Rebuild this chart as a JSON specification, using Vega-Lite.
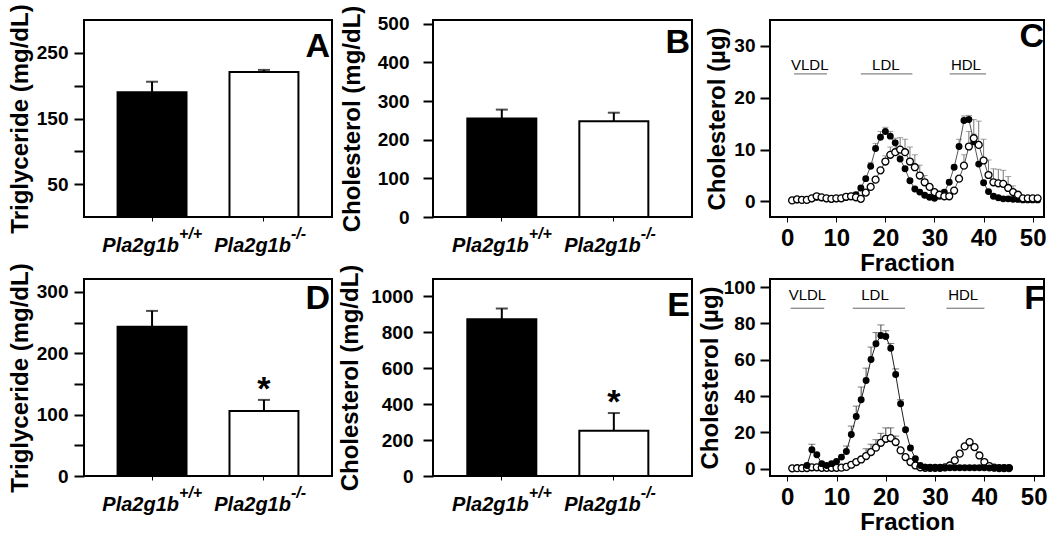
{
  "$schema": "https://vega.github.io/schema/vega-lite/v6.json",
  "padding": {"left": 7, "top": 2, "right": 0, "bottom": 0},
  "background": "white",
  "columns": 3,
  "spacing": {"column": 4, "row": -15},
  "datasets": {
    "bars": [
      {"panel": "A", "genotype": "Pla2g1b+/+", "mean": 190, "upper": 206, "sig": ""},
      {"panel": "A", "genotype": "Pla2g1b-/-", "mean": 221, "upper": 224, "sig": ""},
      {"panel": "B", "genotype": "Pla2g1b+/+", "mean": 255, "upper": 278, "sig": ""},
      {"panel": "B", "genotype": "Pla2g1b-/-", "mean": 248, "upper": 270, "sig": ""},
      {"panel": "D", "genotype": "Pla2g1b+/+", "mean": 243, "upper": 269, "sig": ""},
      {"panel": "D", "genotype": "Pla2g1b-/-", "mean": 106, "upper": 124, "sig": "*"},
      {"panel": "E", "genotype": "Pla2g1b+/+", "mean": 871, "upper": 931, "sig": ""},
      {"panel": "E", "genotype": "Pla2g1b-/-", "mean": 251, "upper": 350, "sig": "*"}
    ],
    "clab": [
      {"lab": "VLDL", "c": 4.6, "a": 1.4, "b": 8.1, "t": 26.4, "l": 24.6},
      {"lab": "LDL", "c": 20.1, "a": 15.0, "b": 25.5, "t": 26.4, "l": 24.6},
      {"lab": "HDL", "c": 36.4, "a": 33.1, "b": 40.5, "t": 26.4, "l": 24.6}
    ],
    "flab": [
      {"lab": "VLDL", "c": 4.1, "a": 0.7, "b": 7.5, "t": 95.8, "l": 88.4},
      {"lab": "LDL", "c": 17.8, "a": 13.3, "b": 23.9, "t": 95.8, "l": 88.4},
      {"lab": "HDL", "c": 35.7, "a": 32.3, "b": 40.0, "t": 95.8, "l": 88.4}
    ],
    "cdat": [
      {"f":1,"g":"wt","v":0.2},{"f":2,"g":"wt","v":0.3},{"f":3,"g":"wt","v":0.3},{"f":4,"g":"wt","v":0.3},{"f":5,"g":"wt","v":0.5},
      {"f":6,"g":"wt","v":0.8},{"f":7,"g":"wt","v":0.7},{"f":8,"g":"wt","v":0.5},{"f":9,"g":"wt","v":0.4},{"f":10,"g":"wt","v":0.5},
      {"f":11,"g":"wt","v":0.6},{"f":12,"g":"wt","v":0.8},{"f":13,"g":"wt","v":1.0},{"f":14,"g":"wt","v":1.3},{"f":15,"g":"wt","v":2.6},
      {"f":16,"g":"wt","v":4.4},{"f":17,"g":"wt","v":6.8,"e":7.5},{"f":18,"g":"wt","v":10.2,"e":11.2},{"f":19,"g":"wt","v":12.4,"e":13.5},{"f":20,"g":"wt","v":13.5,"e":14.3},
      {"f":21,"g":"wt","v":12.6,"e":13.5},{"f":22,"g":"wt","v":11.3,"e":12.2},{"f":23,"g":"wt","v":8.2},{"f":24,"g":"wt","v":6.3},{"f":25,"g":"wt","v":4.0},
      {"f":26,"g":"wt","v":2.4},{"f":27,"g":"wt","v":1.8},{"f":28,"g":"wt","v":1.2},{"f":29,"g":"wt","v":0.8},{"f":30,"g":"wt","v":0.6},
      {"f":31,"g":"wt","v":1.0},{"f":32,"g":"wt","v":1.8},{"f":33,"g":"wt","v":3.7},{"f":34,"g":"wt","v":6.6},{"f":35,"g":"wt","v":10.6,"e":12.0},
      {"f":36,"g":"wt","v":15.6,"e":16.5},{"f":37,"g":"wt","v":15.8,"e":16.6},{"f":38,"g":"wt","v":11.5,"e":13.0},{"f":39,"g":"wt","v":7.2},{"f":40,"g":"wt","v":3.6},
      {"f":41,"g":"wt","v":1.9},{"f":42,"g":"wt","v":1.0},{"f":43,"g":"wt","v":0.7},{"f":44,"g":"wt","v":0.5},{"f":45,"g":"wt","v":0.5},
      {"f":46,"g":"wt","v":0.4},{"f":47,"g":"wt","v":0.4},{"f":48,"g":"wt","v":0.3},{"f":49,"g":"wt","v":0.3},{"f":50,"g":"wt","v":0.3},{"f":51,"g":"wt","v":0.3},
      {"f":1,"g":"ko","v":0.2},{"f":2,"g":"ko","v":0.4},{"f":3,"g":"ko","v":0.3},{"f":4,"g":"ko","v":0.3},{"f":5,"g":"ko","v":0.6},
      {"f":6,"g":"ko","v":1.0},{"f":7,"g":"ko","v":0.8},{"f":8,"g":"ko","v":0.6},{"f":9,"g":"ko","v":0.5},{"f":10,"g":"ko","v":0.6},
      {"f":11,"g":"ko","v":0.6},{"f":12,"g":"ko","v":0.9},{"f":13,"g":"ko","v":1.0},{"f":14,"g":"ko","v":0.8},{"f":15,"g":"ko","v":0.5},
      {"f":16,"g":"ko","v":1.7},{"f":17,"g":"ko","v":2.8},{"f":18,"g":"ko","v":4.2},{"f":19,"g":"ko","v":6.0},{"f":20,"g":"ko","v":7.7,"e":8.8},
      {"f":21,"g":"ko","v":9.0,"e":10.5},{"f":22,"g":"ko","v":9.5,"e":11.8},{"f":23,"g":"ko","v":10.0,"e":12.3},{"f":24,"g":"ko","v":9.5,"e":12.0},{"f":25,"g":"ko","v":7.7,"e":10.5},
      {"f":26,"g":"ko","v":6.6,"e":9.0},{"f":27,"g":"ko","v":5.0,"e":7.0},{"f":28,"g":"ko","v":3.7,"e":5.0},{"f":29,"g":"ko","v":2.8},{"f":30,"g":"ko","v":1.8},
      {"f":31,"g":"ko","v":1.3},{"f":32,"g":"ko","v":1.0},{"f":33,"g":"ko","v":1.0},{"f":34,"g":"ko","v":2.1},{"f":35,"g":"ko","v":4.4},
      {"f":36,"g":"ko","v":6.9,"e":9.0},{"f":37,"g":"ko","v":10.6,"e":13.5},{"f":38,"g":"ko","v":12.2,"e":15.8},{"f":39,"g":"ko","v":10.9,"e":15.5},{"f":40,"g":"ko","v":7.9,"e":12.0},
      {"f":41,"g":"ko","v":5.1,"e":8.0},{"f":42,"g":"ko","v":3.7,"e":6.3},{"f":43,"g":"ko","v":3.5,"e":6.2},{"f":44,"g":"ko","v":3.4,"e":6.0},{"f":45,"g":"ko","v":2.6,"e":4.8},
      {"f":46,"g":"ko","v":1.8,"e":3.0},{"f":47,"g":"ko","v":1.3},{"f":48,"g":"ko","v":0.6},{"f":49,"g":"ko","v":0.6},{"f":50,"g":"ko","v":0.6},{"f":51,"g":"ko","v":0.6}
    ],
    "fdat": [
      {"f":4,"g":"wt","v":1.8},{"f":5,"g":"wt","v":10.5,"e":13.5},{"f":6,"g":"wt","v":7.7},{"f":7,"g":"wt","v":2.8},{"f":8,"g":"wt","v":1.8},
      {"f":9,"g":"wt","v":2.8},{"f":10,"g":"wt","v":4.0},{"f":11,"g":"wt","v":6.4},{"f":12,"g":"wt","v":9.5,"e":12.5},{"f":13,"g":"wt","v":18.9,"e":23.5},
      {"f":14,"g":"wt","v":28.8,"e":34.5},{"f":15,"g":"wt","v":38.0,"e":45.0},{"f":16,"g":"wt","v":48.6,"e":55.4},{"f":17,"g":"wt","v":60.2,"e":67.0},{"f":18,"g":"wt","v":68.8,"e":75.0},
      {"f":19,"g":"wt","v":73.4,"e":79.2},{"f":20,"g":"wt","v":72.8,"e":76.0},{"f":21,"g":"wt","v":66.4,"e":69.0},{"f":22,"g":"wt","v":51.9,"e":55.0},{"f":23,"g":"wt","v":35.8,"e":38.0},
      {"f":24,"g":"wt","v":21.5},{"f":25,"g":"wt","v":11.4},{"f":26,"g":"wt","v":5.5},{"f":27,"g":"wt","v":1.8},{"f":28,"g":"wt","v":0.8},
      {"f":29,"g":"wt","v":0.5},{"f":30,"g":"wt","v":0.5},{"f":31,"g":"wt","v":0.5},{"f":32,"g":"wt","v":0.5},{"f":33,"g":"wt","v":0.5},
      {"f":34,"g":"wt","v":0.5},{"f":35,"g":"wt","v":0.5},{"f":36,"g":"wt","v":0.5},{"f":37,"g":"wt","v":0.5},{"f":38,"g":"wt","v":0.5},
      {"f":39,"g":"wt","v":0.5},{"f":40,"g":"wt","v":0.5},{"f":41,"g":"wt","v":0.4},{"f":42,"g":"wt","v":0.4},{"f":43,"g":"wt","v":0.4},{"f":44,"g":"wt","v":0.4},{"f":45,"g":"wt","v":0.4},
      {"f":1,"g":"ko","v":0.2},{"f":2,"g":"ko","v":0.3},{"f":3,"g":"ko","v":0.3},{"f":4,"g":"ko","v":0.4},{"f":5,"g":"ko","v":0.8},
      {"f":6,"g":"ko","v":0.8},{"f":7,"g":"ko","v":0.5},{"f":8,"g":"ko","v":0.5},{"f":9,"g":"ko","v":0.5},{"f":10,"g":"ko","v":0.5},
      {"f":11,"g":"ko","v":0.6},{"f":12,"g":"ko","v":1.0},{"f":13,"g":"ko","v":2.2},{"f":14,"g":"ko","v":3.7},{"f":15,"g":"ko","v":5.1},
      {"f":16,"g":"ko","v":7.0,"e":11.0},{"f":17,"g":"ko","v":9.2,"e":13.5},{"f":18,"g":"ko","v":11.6,"e":16.0},{"f":19,"g":"ko","v":14.3,"e":19.5},{"f":20,"g":"ko","v":16.5,"e":22.5},
      {"f":21,"g":"ko","v":16.9,"e":22.5},{"f":22,"g":"ko","v":14.7,"e":18.0},{"f":23,"g":"ko","v":10.1},{"f":24,"g":"ko","v":6.4},{"f":25,"g":"ko","v":3.7},
      {"f":26,"g":"ko","v":1.8},{"f":27,"g":"ko","v":0.8},{"f":28,"g":"ko","v":0.5},{"f":29,"g":"ko","v":0.5},{"f":30,"g":"ko","v":0.5},
      {"f":31,"g":"ko","v":0.5},{"f":32,"g":"ko","v":0.8},{"f":33,"g":"ko","v":1.8},{"f":34,"g":"ko","v":4.6},{"f":35,"g":"ko","v":8.3},
      {"f":36,"g":"ko","v":12.3},{"f":37,"g":"ko","v":14.7},{"f":38,"g":"ko","v":11.9},{"f":39,"g":"ko","v":7.3},{"f":40,"g":"ko","v":3.7},
      {"f":41,"g":"ko","v":1.5},{"f":42,"g":"ko","v":0.6},{"f":43,"g":"ko","v":0.4},{"f":44,"g":"ko","v":0.4},{"f":45,"g":"ko","v":0.4}
    ]
  },
  "concat": [
    {
      "width": 248, "height": 197,
      "title": {"text": "A", "offset": -60, "dx": -2},
      "data": {"name": "bars"},
      "transform": [{"filter": "datum.panel == 'A'"}],
      "layer": [
        {"mark": {"type": "bar", "stroke": "black", "strokeWidth": 2},
         "encoding": {
           "x": {"field": "genotype", "type": "nominal", "sort": null, "scale": {"paddingInner": 0.384, "paddingOuter": 0.3},
                 "axis": {"title": null, "labelExpr": "'Pla2g1b'", "labelFontSize": 20, "labelFontStyle": "italic", "labelAlign": "right", "labelOffset": 27, "labelPadding": 14, "labelBaseline": "top", "labelAngle": 0}},
           "y": {"field": "mean", "type": "quantitative", "scale": {"domain": [0, 300], "nice": false},
                 "axis": {"title": "Triglyceride (mg/dL)", "values": [50, 100, 150, 200, 250], "tickCount": 12, "labelExpr": "datum.value % 100 == 50 ? datum.label : ''", "labelPadding": 6, "titlePadding": 4}},
           "fill": {"field": "genotype", "type": "nominal", "sort": null, "scale": {"range": ["black", "white"]}, "legend": null}}},
        {"mark": {"type": "rule", "color": "black", "strokeWidth": 2},
         "encoding": {
           "x": {"field": "genotype", "type": "nominal", "sort": null,
                 "axis": {"title": null, "orient": "bottom", "ticks": false, "labelExpr": "datum.value == 'Pla2g1b+/+' ? '+/+' : '-/-'", "labelFontSize": 16, "labelFontStyle": "italic", "labelAlign": "left", "labelOffset": 27, "labelPadding": 8, "labelBaseline": "top", "labelAngle": 0}},
           "y": {"field": "mean", "type": "quantitative", "axis": {"title": "Triglyceride (mg/dL)"}},
           "y2": {"field": "upper"}}},
        {"mark": {"type": "tick", "color": "black", "thickness": 2, "size": 12},
         "encoding": {
           "x": {"field": "genotype", "type": "nominal", "sort": null, "axis": null},
           "y": {"field": "upper", "type": "quantitative", "axis": {"title": "Triglyceride (mg/dL)"}}}}
      ],
      "resolve": {"axis": {"x": "independent"}}
    },
    {
      "width": 259, "height": 197,
      "title": {"text": "B", "offset": -55, "dx": -2},
      "data": {"name": "bars"},
      "transform": [{"filter": "datum.panel == 'B'"}],
      "layer": [
        {"mark": {"type": "bar", "stroke": "black", "strokeWidth": 2},
         "encoding": {
           "x": {"field": "genotype", "type": "nominal", "sort": null, "scale": {"paddingInner": 0.384, "paddingOuter": 0.348, "align": 0.44},
                 "axis": {"title": null, "labelExpr": "'Pla2g1b'", "labelFontSize": 20, "labelFontStyle": "italic", "labelAlign": "right", "labelOffset": 27, "labelPadding": 14, "labelBaseline": "top", "labelAngle": 0}},
           "y": {"field": "mean", "type": "quantitative", "scale": {"domain": [0, 510], "nice": false},
                 "axis": {"title": "Cholesterol (mg/dL)", "values": [0, 100, 200, 300, 400, 500], "tickCount": 12, "labelPadding": 14, "titlePadding": 13}},
           "fill": {"field": "genotype", "type": "nominal", "sort": null, "scale": {"range": ["black", "white"]}, "legend": null}}},
        {"mark": {"type": "rule", "color": "black", "strokeWidth": 2},
         "encoding": {
           "x": {"field": "genotype", "type": "nominal", "sort": null,
                 "axis": {"title": null, "orient": "bottom", "ticks": false, "labelExpr": "datum.value == 'Pla2g1b+/+' ? '+/+' : '-/-'", "labelFontSize": 16, "labelFontStyle": "italic", "labelAlign": "left", "labelOffset": 27, "labelPadding": 8, "labelBaseline": "top", "labelAngle": 0}},
           "y": {"field": "mean", "type": "quantitative", "axis": {"title": "Cholesterol (mg/dL)"}},
           "y2": {"field": "upper"}}},
        {"mark": {"type": "tick", "color": "black", "thickness": 2, "size": 12},
         "encoding": {
           "x": {"field": "genotype", "type": "nominal", "sort": null, "axis": null},
           "y": {"field": "upper", "type": "quantitative", "axis": {"title": "Cholesterol (mg/dL)"}}}}
      ],
      "resolve": {"axis": {"x": "independent"}}
    },
    {
      "width": 274, "height": 197,
      "title": {"text": "C", "offset": -34, "dx": -2},
      "layer": [
        {"data": {"name": "clab"}, "mark": {"type": "rule", "color": "#666666", "strokeWidth": 1},
         "encoding": {"x": {"field": "a", "type": "quantitative", "axis": {"title": "Fraction"}}, "x2": {"field": "b"}, "y": {"field": "l", "type": "quantitative", "axis": {"title": "Cholesterol (µg)"}}}},
        {"data": {"name": "clab"}, "mark": {"type": "text", "fontSize": 15, "color": "black", "baseline": "middle"},
         "encoding": {"x": {"field": "c", "type": "quantitative", "axis": {"title": "Fraction"}}, "y": {"field": "t", "type": "quantitative", "axis": {"title": "Cholesterol (µg)"}}, "text": {"field": "lab"}}},
        {"data": {"name": "cdat"}, "transform": [{"filter": "isValid(datum.e)"}], "mark": {"type": "rule", "color": "#777777", "strokeWidth": 1},
         "encoding": {"x": {"field": "f", "type": "quantitative", "axis": {"title": "Fraction"}}, "y": {"field": "v", "type": "quantitative", "axis": {"title": "Cholesterol (µg)"}}, "y2": {"field": "e"}}},
        {"data": {"name": "cdat"}, "transform": [{"filter": "isValid(datum.e)"}], "mark": {"type": "tick", "orient": "horizontal", "color": "#777777", "thickness": 1, "size": 6},
         "encoding": {"x": {"field": "f", "type": "quantitative", "axis": {"title": "Fraction"}}, "y": {"field": "e", "type": "quantitative", "axis": {"title": "Cholesterol (µg)"}}}},
        {"data": {"name": "cdat"}, "mark": {"type": "line", "color": "#555555", "strokeWidth": 1},
         "encoding": {
           "x": {"field": "f", "type": "quantitative", "scale": {"domain": [-3.5, 52.3], "nice": false, "zero": false},
                 "axis": {"title": "Fraction", "values": [0, 10, 20, 30, 40, 50], "tickCount": 12, "labelFontSize": 24, "titleFontSize": 24, "tickSize": 5, "labelPadding": 4, "titlePadding": 1, "labelFlush": false}},
           "y": {"field": "v", "type": "quantitative", "scale": {"domain": [-3, 35], "nice": false, "zero": false},
                 "axis": {"title": "Cholesterol (µg)", "values": [0, 10, 20, 30], "tickCount": 12, "labelPadding": 5, "titlePadding": 4}},
           "detail": {"field": "g"}}},
        {"data": {"name": "cdat"}, "transform": [{"filter": "datum.g == 'wt'"}], "mark": {"type": "point", "shape": "circle", "filled": true, "color": "black", "size": 48, "opacity": 1},
         "encoding": {"x": {"field": "f", "type": "quantitative", "axis": {"title": "Fraction"}}, "y": {"field": "v", "type": "quantitative", "axis": {"title": "Cholesterol (µg)"}}}},
        {"data": {"name": "cdat"}, "transform": [{"filter": "datum.g == 'ko'"}], "mark": {"type": "point", "shape": "circle", "filled": true, "fill": "white", "stroke": "black", "strokeWidth": 1.3, "size": 48, "opacity": 1},
         "encoding": {"x": {"field": "f", "type": "quantitative", "axis": {"title": "Fraction"}}, "y": {"field": "v", "type": "quantitative", "axis": {"title": "Cholesterol (µg)"}}}}
      ]
    },
    {
      "width": 248, "height": 197,
      "title": {"text": "D", "offset": -53, "dx": -2},
      "data": {"name": "bars"},
      "transform": [{"filter": "datum.panel == 'D'"}],
      "layer": [
        {"mark": {"type": "bar", "stroke": "black", "strokeWidth": 2},
         "encoding": {
           "x": {"field": "genotype", "type": "nominal", "sort": null, "scale": {"paddingInner": 0.384, "paddingOuter": 0.3},
                 "axis": {"title": null, "labelExpr": "'Pla2g1b'", "labelFontSize": 20, "labelFontStyle": "italic", "labelAlign": "right", "labelOffset": 27, "labelPadding": 14, "labelBaseline": "top", "labelAngle": 0}},
           "y": {"field": "mean", "type": "quantitative", "scale": {"domain": [0, 321], "nice": false},
                 "axis": {"title": "Triglyceride (mg/dL)", "values": [0, 50, 100, 150, 200, 250, 300], "tickCount": 12, "labelExpr": "datum.value % 100 == 0 ? datum.label : ''", "labelPadding": 6, "titlePadding": 4}},
           "fill": {"field": "genotype", "type": "nominal", "sort": null, "scale": {"range": ["black", "white"]}, "legend": null}}},
        {"mark": {"type": "rule", "color": "black", "strokeWidth": 2},
         "encoding": {
           "x": {"field": "genotype", "type": "nominal", "sort": null,
                 "axis": {"title": null, "orient": "bottom", "ticks": false, "labelExpr": "datum.value == 'Pla2g1b+/+' ? '+/+' : '-/-'", "labelFontSize": 16, "labelFontStyle": "italic", "labelAlign": "left", "labelOffset": 27, "labelPadding": 8, "labelBaseline": "top", "labelAngle": 0}},
           "y": {"field": "mean", "type": "quantitative", "axis": {"title": "Triglyceride (mg/dL)"}},
           "y2": {"field": "upper"}}},
        {"mark": {"type": "tick", "color": "black", "thickness": 2, "size": 12},
         "encoding": {
           "x": {"field": "genotype", "type": "nominal", "sort": null, "axis": null},
           "y": {"field": "upper", "type": "quantitative", "axis": {"title": "Triglyceride (mg/dL)"}}}},
        {"mark": {"type": "text", "fontSize": 34, "fontWeight": "bold", "baseline": "middle", "dy": -10, "color": "black"},
         "encoding": {
           "x": {"field": "genotype", "type": "nominal", "sort": null, "axis": null},
           "y": {"field": "upper", "type": "quantitative", "axis": {"title": "Triglyceride (mg/dL)"}},
           "text": {"field": "sig"}}}
      ],
      "resolve": {"axis": {"x": "independent"}}
    },
    {
      "width": 259, "height": 197,
      "title": {"text": "E", "offset": -59, "dx": -2},
      "data": {"name": "bars"},
      "transform": [{"filter": "datum.panel == 'E'"}],
      "layer": [
        {"mark": {"type": "bar", "stroke": "black", "strokeWidth": 2},
         "encoding": {
           "x": {"field": "genotype", "type": "nominal", "sort": null, "scale": {"paddingInner": 0.384, "paddingOuter": 0.348, "align": 0.44},
                 "axis": {"title": null, "labelExpr": "'Pla2g1b'", "labelFontSize": 20, "labelFontStyle": "italic", "labelAlign": "right", "labelOffset": 27, "labelPadding": 14, "labelBaseline": "top", "labelAngle": 0}},
           "y": {"field": "mean", "type": "quantitative", "scale": {"domain": [0, 1095], "nice": false},
                 "axis": {"title": "Cholesterol (mg/dL)", "values": [0, 200, 400, 600, 800, 1000], "format": "d", "tickCount": 12, "labelPadding": 10, "titlePadding": 8}},
           "fill": {"field": "genotype", "type": "nominal", "sort": null, "scale": {"range": ["black", "white"]}, "legend": null}}},
        {"mark": {"type": "rule", "color": "black", "strokeWidth": 2},
         "encoding": {
           "x": {"field": "genotype", "type": "nominal", "sort": null,
                 "axis": {"title": null, "orient": "bottom", "ticks": false, "labelExpr": "datum.value == 'Pla2g1b+/+' ? '+/+' : '-/-'", "labelFontSize": 16, "labelFontStyle": "italic", "labelAlign": "left", "labelOffset": 27, "labelPadding": 8, "labelBaseline": "top", "labelAngle": 0}},
           "y": {"field": "mean", "type": "quantitative", "axis": {"title": "Cholesterol (mg/dL)"}},
           "y2": {"field": "upper"}}},
        {"mark": {"type": "tick", "color": "black", "thickness": 2, "size": 12},
         "encoding": {
           "x": {"field": "genotype", "type": "nominal", "sort": null, "axis": null},
           "y": {"field": "upper", "type": "quantitative", "axis": {"title": "Cholesterol (mg/dL)"}}}},
        {"mark": {"type": "text", "fontSize": 34, "fontWeight": "bold", "baseline": "middle", "dy": -10, "color": "black"},
         "encoding": {
           "x": {"field": "genotype", "type": "nominal", "sort": null, "axis": null},
           "y": {"field": "upper", "type": "quantitative", "axis": {"title": "Cholesterol (mg/dL)"}},
           "text": {"field": "sig"}}}
      ],
      "resolve": {"axis": {"x": "independent"}}
    },
    {
      "width": 274, "height": 197,
      "title": {"text": "F", "offset": -38, "dx": -2},
      "layer": [
        {"data": {"name": "flab"}, "mark": {"type": "rule", "color": "#666666", "strokeWidth": 1},
         "encoding": {"x": {"field": "a", "type": "quantitative", "axis": {"title": "Fraction"}}, "x2": {"field": "b"}, "y": {"field": "l", "type": "quantitative", "axis": {"title": "Cholesterol (µg)"}}}},
        {"data": {"name": "flab"}, "mark": {"type": "text", "fontSize": 15, "color": "black", "baseline": "middle"},
         "encoding": {"x": {"field": "c", "type": "quantitative", "axis": {"title": "Fraction"}}, "y": {"field": "t", "type": "quantitative", "axis": {"title": "Cholesterol (µg)"}}, "text": {"field": "lab"}}},
        {"data": {"name": "fdat"}, "transform": [{"filter": "isValid(datum.e)"}], "mark": {"type": "rule", "color": "#444444", "strokeWidth": 1},
         "encoding": {"x": {"field": "f", "type": "quantitative", "axis": {"title": "Fraction"}}, "y": {"field": "v", "type": "quantitative", "axis": {"title": "Cholesterol (µg)"}}, "y2": {"field": "e"}}},
        {"data": {"name": "fdat"}, "transform": [{"filter": "isValid(datum.e)"}], "mark": {"type": "tick", "orient": "horizontal", "color": "#444444", "thickness": 1, "size": 7},
         "encoding": {"x": {"field": "f", "type": "quantitative", "axis": {"title": "Fraction"}}, "y": {"field": "e", "type": "quantitative", "axis": {"title": "Cholesterol (µg)"}}}},
        {"data": {"name": "fdat"}, "mark": {"type": "line", "color": "#222222", "strokeWidth": 1},
         "encoding": {
           "x": {"field": "f", "type": "quantitative", "scale": {"domain": [-3.5, 52.1], "nice": false, "zero": false},
                 "axis": {"title": "Fraction", "values": [0, 10, 20, 30, 40, 50], "tickCount": 12, "labelFontSize": 24, "titleFontSize": 24, "tickSize": 5, "labelPadding": 4, "titlePadding": 1, "labelFlush": false}},
           "y": {"field": "v", "type": "quantitative", "scale": {"domain": [-4, 104.5], "nice": false, "zero": false},
                 "axis": {"title": "Cholesterol (µg)", "values": [0, 20, 40, 60, 80, 100], "tickCount": 12, "labelPadding": 5, "titlePadding": 1}},
           "detail": {"field": "g"}}},
        {"data": {"name": "fdat"}, "transform": [{"filter": "datum.g == 'ko'"}], "mark": {"type": "point", "shape": "circle", "filled": true, "fill": "white", "stroke": "black", "strokeWidth": 1.3, "size": 48, "opacity": 1},
         "encoding": {"x": {"field": "f", "type": "quantitative", "axis": {"title": "Fraction"}}, "y": {"field": "v", "type": "quantitative", "axis": {"title": "Cholesterol (µg)"}}}},
        {"data": {"name": "fdat"}, "transform": [{"filter": "datum.g == 'wt'"}], "mark": {"type": "point", "shape": "circle", "filled": true, "color": "black", "size": 48, "opacity": 1},
         "encoding": {"x": {"field": "f", "type": "quantitative", "axis": {"title": "Fraction"}}, "y": {"field": "v", "type": "quantitative", "axis": {"title": "Cholesterol (µg)"}}}}
      ]
    }
  ],
  "config": {
    "view": {"stroke": "black", "strokeWidth": 2},
    "font": "Liberation Sans",
    "axis": {"domain": false, "grid": false, "labelOverlap": false, "labelFont": "Liberation Sans", "labelFontWeight": "bold", "labelColor": "black", "titleFont": "Liberation Sans", "titleFontWeight": "bold", "titleColor": "black", "tickColor": "black"},
    "axisY": {"labelFontSize": 19, "titleFontSize": 24, "tickSize": 10, "tickWidth": 2},
    "axisX": {"tickSize": 4, "tickWidth": 1},
    "title": {"anchor": "end", "fontSize": 34, "fontWeight": "bold", "color": "black", "font": "Liberation Sans"}
  }
}
